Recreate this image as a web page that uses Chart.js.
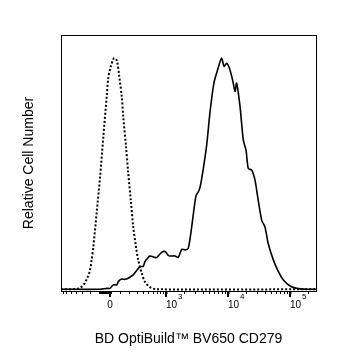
<!DOCTYPE html>
<html>
<head>
<meta charset="utf-8">
<script src="https://cdn.jsdelivr.net/npm/chart.js@4/dist/chart.umd.min.js"></script>
<style>
  html, body { margin: 0; padding: 0; background: #fff; }
</style>
</head>
<body>
<canvas id="c" width="337" height="360"></canvas>
<script>
// Histogram of CD279 staining on a biexponential (arcsinh) display, 0–1024 channels.
const FONT = "'Liberation Sans', Arial, Helvetica, sans-serif";

// Isotype control (dotted) – channel and % of mode
const isoChannel = [0, 40, 56, 68, 84, 96, 108, 116, 123, 130, 143, 157, 170, 184, 190, 200, 213, 224, 234, 244,
                    250, 261, 270, 280, 290, 301, 310, 324, 337, 357, 384, 1024];
const isoCount   = [0, 0, 0.1, 0.3, 1.2, 2.8, 5.5, 8, 12.7, 18.4, 33, 48.6, 66, 84, 91.5, 96.4, 100, 99, 92, 83.4,
                    74.7, 61.8, 50.3, 38.8, 27.1, 18.5, 12.7, 7.0, 3.3, 0.9, 0, 0];

// CD279 stained cells (solid) – channel and % of mode
const pdChannel = [0, 157, 184, 197, 210, 224, 230, 244, 257, 270, 290, 317, 330, 337, 357, 371, 384, 404, 418, 431,
                   438, 458, 471, 485, 498, 511, 525, 542, 555, 565, 585, 598, 614, 632, 645, 655, 665, 676, 689, 699,
                   705, 719, 732, 743, 752, 766, 779, 792, 806, 819, 832, 853, 873, 893, 920, 947, 987, 1024];
const pdCount   = [0, 0, 0.4, 0.4, 1.9, 1.9, 3.3, 4.4, 4.3, 4.8, 6.2, 9.8, 9.9, 11.9, 14.4, 14.0, 13.7, 16.0, 16.3, 14.6,
                   14.4, 14.4, 13.8, 17.3, 17.0, 17.7, 27.1, 40.4, 42.9, 47.9, 62.4, 76.3, 89.2, 96.0, 100, 96.4, 97.8, 95.7, 90.6, 85.6,
                   89.2, 79.0, 64.6, 60.2, 52.3, 51.5, 47.2, 38.5, 29.9, 27.0, 19.8, 12.6, 7.6, 4.0, 1.4, 0.4, 0, 0];

// Axis labelling (fluorescence intensity values)
const majorValues = [0, 1e3, 1e4, 1e5];
const majorBase   = ['0', '10', '10', '10'];
const majorExp    = ['', '3', '4', '5'];
const negMinor    = [-700, -600, -500, -400, -300, -200, -100];
const zeroMinor   = [-90, -80, -70, -60, -50, -40, -30, -20, -10, 10];
const decadeStarts = [100, 1000, 10000, 100000];
const decadeMults  = [1, 2, 3, 4, 5, 6, 7, 8, 9];

// intensity -> display channel
const toChannel = v => 197 + 108.5 * Math.asinh(v / 254);

const tickList = [];
negMinor.concat(zeroMinor).forEach(v => tickList.push({ value: toChannel(v), major: false }));
decadeStarts.forEach(s => decadeMults.forEach(m => {
  const v = s * m;
  if (!majorValues.includes(v)) tickList.push({ value: toChannel(v), major: false });
}));
majorValues.forEach(v => tickList.push({ value: toChannel(v), major: true }));
tickList.sort((a, b) => a.value - b.value);

const toPoints = (xs, ys) => xs.map((x, i) => ({ x, y: ys[i] }));

// labels with superscript exponents + longer decade marks
const decadeLabels = {
  id: 'decadeLabels',
  afterDraw(chart) {
    const { ctx } = chart;
    const xs = chart.scales.x;
    const yb = xs.top;
    ctx.save();
    ctx.fillStyle = '#000';
    ctx.strokeStyle = '#000';
    ctx.lineWidth = 2;
    ctx.textBaseline = 'alphabetic';
    majorValues.forEach((v, i) => {
      const px = Math.round(xs.getPixelForValue(toChannel(v)));
      ctx.beginPath();
      ctx.moveTo(px, yb);
      ctx.lineTo(px, yb + 6);
      ctx.stroke();
      ctx.font = `10px ${FONT}`;
      if (!majorExp[i]) {
        ctx.textAlign = 'center';
        ctx.fillText(majorBase[i], px, 308);
      } else {
        ctx.textAlign = 'left';
        ctx.fillText(majorBase[i], px, 308);
        const w = ctx.measureText(majorBase[i]).width;
        ctx.font = `8px ${FONT}`;
        ctx.fillText(majorExp[i], px + w + 1, 298.5);
      }
    });
    ctx.restore();
  }
};

new Chart(document.getElementById('c'), {
  type: 'line',
  data: {
    datasets: [
      {
        label: 'Isotype',
        data: toPoints(isoChannel, isoCount),
        borderColor: '#000',
        borderWidth: 2,
        borderDash: [2, 2],
        pointRadius: 0,
        tension: 0.3,
        fill: false
      },
      {
        label: 'CD279',
        data: toPoints(pdChannel, pdCount),
        borderColor: '#000',
        borderWidth: 1.6,
        pointRadius: 0,
        tension: 0.25,
        fill: false
      }
    ]
  },
  options: {
    responsive: false,
    animation: false,
    events: [],
    layout: { padding: { top: 35, right: 21, left: 0, bottom: 0 } },
    plugins: { legend: { display: false }, tooltip: { enabled: false } },
    scales: {
      x: {
        type: 'linear',
        position: 'bottom',
        min: 0,
        max: 1024,
        afterBuildTicks: s => { s.ticks = tickList.filter(t => t.value >= 0 && t.value <= 1024).map(t => ({ ...t })); },
        afterFit: s => { s.height = 69; },
        ticks: { display: false },
        grid: {
          display: true,
          drawOnChartArea: false,
          drawTicks: true,
          tickLength: 3,
          tickColor: '#000',
          tickWidth: ctx => (ctx.tick && ctx.tick.major ? 2 : 1)
        },
        border: { display: true, color: '#000', width: 1 },
        title: {
          display: true,
          text: 'BD OptiBuild™ BV650 CD279',
          color: '#000',
          font: { family: FONT, size: 14 },
          padding: { top: 0, bottom: 12.6 }
        }
      },
      y: {
        type: 'linear',
        position: 'left',
        min: -0.75,
        max: 110,
        afterFit: s => { s.width = 61; },
        ticks: { display: false },
        grid: { display: false },
        border: { display: true, color: '#000', width: 1 },
        title: {
          display: true,
          text: 'Relative Cell Number',
          color: '#000',
          font: { family: FONT, size: 14 },
          padding: { top: 20.6, bottom: 0 }
        }
      },
      xTop: {
        type: 'linear',
        position: 'top',
        min: 0,
        max: 1,
        afterFit: s => { s.height = 0; },
        ticks: { display: false },
        grid: { display: false },
        border: { display: true, color: '#000', width: 1 }
      },
      yRight: {
        type: 'linear',
        position: 'right',
        min: 0,
        max: 1,
        afterFit: s => { s.width = 0; },
        ticks: { display: false },
        grid: { display: false },
        border: { display: true, color: '#000', width: 1 }
      }
    }
  },
  plugins: [decadeLabels]
});
</script>
</body>
</html>
